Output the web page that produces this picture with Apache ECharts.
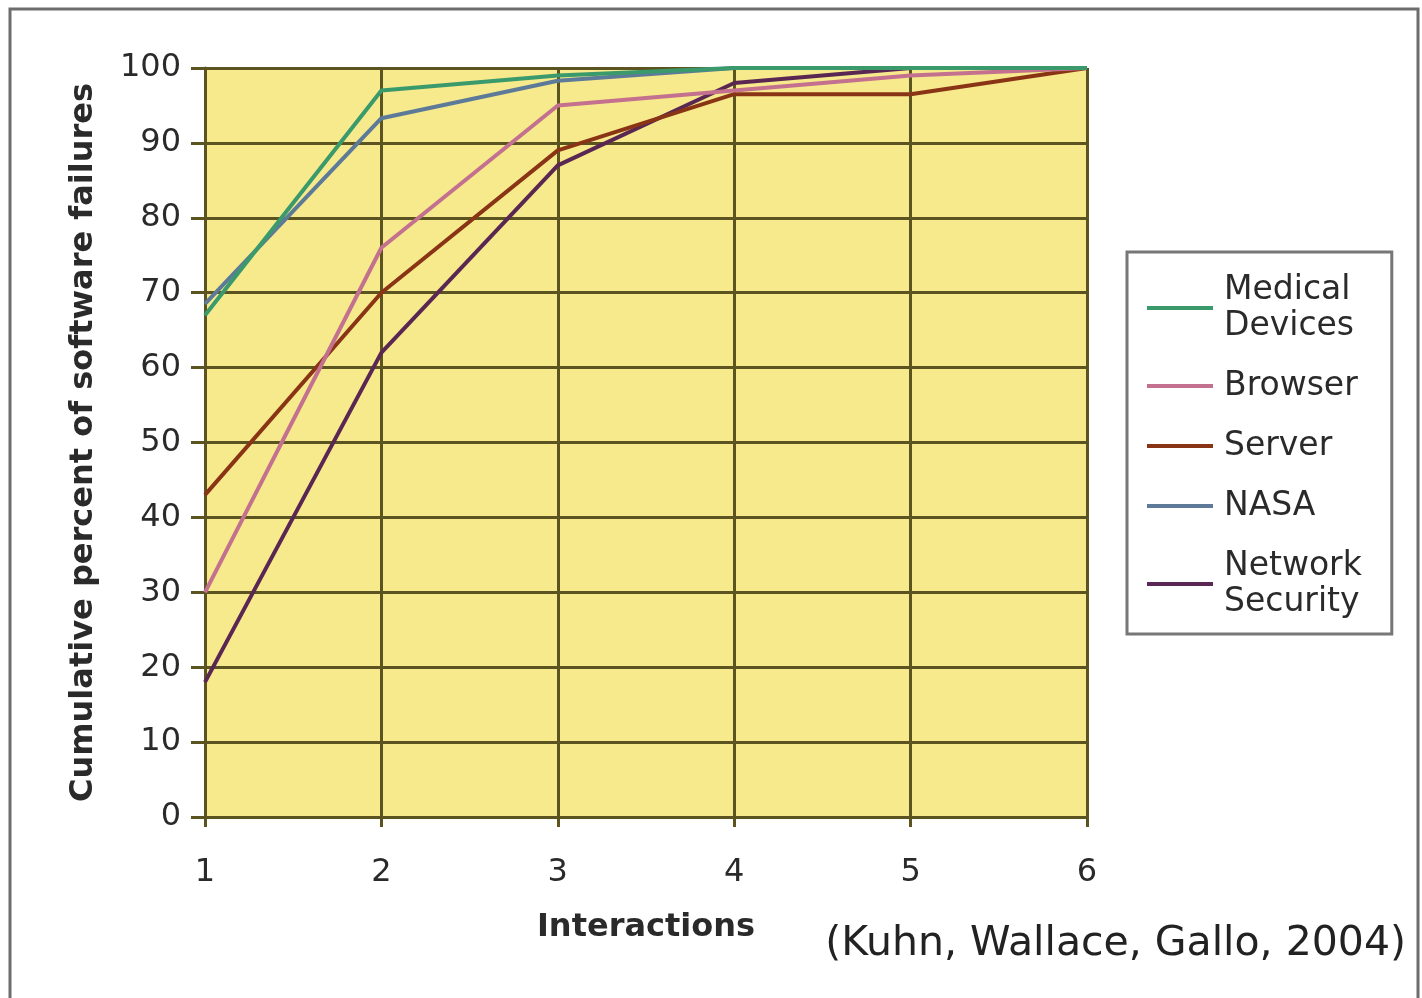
<!DOCTYPE html>
<html>
<head>
<meta charset="UTF-8">
<script src="https://cdn.jsdelivr.net/npm/echarts@6/dist/echarts.min.js"></script>
<style>
  html, body { margin: 0; padding: 0; background: #fff; }
  #chart { width: 1422px; height: 998px; }
</style>
</head>
<body>
<div id="chart"></div>
<script>
// interactions on the x axis
var interactions = [1, 2, 3, 4, 5, 6];
// cumulative percent of software failures per series
var medicalDevices = [67, 97, 99, 100, 100, 100];
var browser = [30, 76, 95, 97, 99, 100];
var server = [43, 70, 89, 96.5, 96.5, 100];
var nasa = [68.5, 93.3, 98.3, 100, 100, 100];
var networkSecurity = [18, 62, 87, 98, 100, 100];

var seriesNames = ['Medical Devices', 'Browser', 'Server', 'NASA', 'Network Security'];
var legendLabels = {
  'Medical Devices': 'Medical\nDevices',
  'Browser': 'Browser',
  'Server': 'Server',
  'NASA': 'NASA',
  'Network Security': 'Network\nSecurity'
};
var colors = ['#3b9a6b', '#c4708f', '#8a3416', '#5d7b98', '#5a2752'];
var values = [medicalDevices, browser, server, nasa, networkSecurity];

function pairs(ys) {
  return interactions.map(function (x, i) { return [x, ys[i]]; });
}

var gridColor = '#5b5320';
var font = 'DejaVu Sans';
var myChart = echarts.init(document.getElementById('chart'));

var series = seriesNames.map(function (name, i) {
  return {
    name: name,
    type: 'line',
    data: pairs(values[i]),
    symbol: 'none',
    lineStyle: { color: colors[i], width: 4 },
    itemStyle: { color: colors[i] },
    z: 10 - i
  };
});

var option = {
  backgroundColor: '#fff',
  animation: false,
  grid: {
    left: 205, right: 335, top: 68, bottom: 181,
    show: true,
    backgroundColor: '#f6ea8c',
    borderWidth: 0
  },
  xAxis: {
    type: 'value',
    min: 1, max: 6, interval: 1,
    name: 'Interactions',
    nameLocation: 'middle',
    nameGap: 95,
    nameTextStyle: { fontFamily: font, fontWeight: 'bold', fontSize: 32, color: '#2a2a2a' },
    axisLine: { show: true, lineStyle: { color: gridColor, width: 3 } },
    axisTick: { show: true, length: 10, lineStyle: { color: gridColor, width: 3 } },
    axisLabel: { fontFamily: font, fontSize: 32, color: '#2a2a2a', margin: 40 },
    splitLine: { show: true, lineStyle: { color: gridColor, width: 3 } }
  },
  yAxis: {
    type: 'value',
    min: 0, max: 100, interval: 10,
    name: 'Cumulative percent of software failures',
    nameLocation: 'middle',
    nameGap: 105,
    nameTextStyle: { fontFamily: font, fontWeight: 'bold', fontSize: 32, color: '#2a2a2a' },
    axisLine: { show: true, lineStyle: { color: gridColor, width: 3 } },
    axisTick: { show: true, length: 14, lineStyle: { color: gridColor, width: 3 } },
    axisLabel: { fontFamily: font, fontSize: 32, color: '#2a2a2a', margin: 24 },
    splitLine: { show: true, lineStyle: { color: gridColor, width: 3 } }
  },
  legend: {
    orient: 'vertical',
    left: 1127,
    top: 252,
    padding: [20, 30, 14, 20],
    itemGap: 24,
    itemWidth: 66,
    itemHeight: 4,
    icon: 'rect',
    backgroundColor: '#fff',
    borderColor: '#777',
    borderWidth: 3,
    data: seriesNames,
    formatter: function (name) { return legendLabels[name]; },
    textStyle: { fontFamily: font, fontSize: 33, lineHeight: 36, color: '#2a2a2a', padding: [0, 0, 0, 6] }
  },
  graphic: [
    {
      type: 'rect',
      shape: { x: 10, y: 9, width: 1408, height: 995 },
      style: { fill: 'none', stroke: '#6d6d6d', lineWidth: 3 },
      silent: true
    },
    {
      type: 'text',
      right: 16,
      top: 924,
      style: {
        text: '(Kuhn, Wallace, Gallo, 2004)',
        fontFamily: font,
        fontSize: 41,
        fill: '#222'
      }
    }
  ],
  series: series
};
myChart.setOption(option);
</script>
</body>
</html>
